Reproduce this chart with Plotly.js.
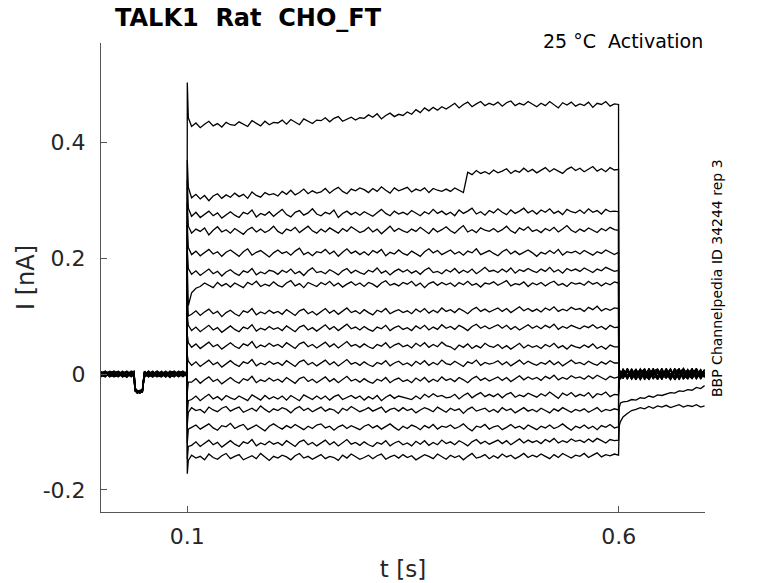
<!DOCTYPE html>
<html><head><meta charset="utf-8">
<script src="https://cdn.plot.ly/plotly-3.0.1.min.js"></script>
<style>html,body{margin:0;padding:0;background:#fff}#plot{width:778px;height:583px}</style>
</head><body><div id="plot"></div>
<script>
// time bases (s)
const tPre = [0,0.005,0.01,0.015,0.02,0.025,0.03,0.035,0.0385,0.0392,0.042,0.045,0.048,0.0502,0.0508,0.055,0.06,0.065,0.07,0.075,0.08,0.085,0.09,0.095,0.0998];
const tStep = [0.1,0.1012,
0.105,0.11,0.115,0.12,0.125,0.13,0.135,0.14,0.145,0.15,
0.155,0.16,0.165,0.17,0.175,0.18,0.185,0.19,0.195,0.2,
0.205,0.21,0.215,0.22,0.225,0.23,0.235,0.24,0.245,0.25,
0.255,0.26,0.265,0.27,0.275,0.28,0.285,0.29,0.295,0.3,
0.305,0.31,0.315,0.32,0.325,0.33,0.335,0.34,0.345,0.35,
0.355,0.36,0.365,0.37,0.375,0.38,0.385,0.39,0.395,0.4,
0.405,0.41,0.415,0.42,0.425,0.43,0.435,0.44,0.445,0.45,
0.455,0.46,0.465,0.47,0.475,0.48,0.485,0.49,0.495,0.5,
0.505,0.51,0.515,0.52,0.525,0.53,0.535,0.54,0.545,0.55,
0.555,0.56,0.565,0.57,0.575,0.58,0.585,0.59,0.595,
0.5998];
const tPost = [0.6,0.6006,0.602,0.605,0.61,0.615,0.62,0.625,0.63,0.635,0.64,0.645,0.65,0.655,0.66,0.665,0.67,0.675,0.68,0.685,0.69,0.695,0.6995];

// current values in pA, one sweep per array
const pre01=[2,-3,4,-1,-5,3,0,-4,2,-24,-30,-31,-27,-2,3,-4,1,5,-3,0,-6,2,4,-2,1];
const pre02=[-4,1,-2,5,0,-3,4,1,-5,-27,-32,-29,-30,1,-3,2,-5,0,3,-4,1,-2,5,0,-3];
const pre03=[1,5,-2,-4,3,-1,-6,2,0,-25,-29,-33,-28,-4,0,5,-1,-3,2,4,-5,0,-1,3,-4];
const pre04=[-2,-5,3,1,-3,5,-2,0,4,-28,-31,-30,-26,2,-5,-1,3,-4,0,-2,3,5,-3,1,0];
const pre05=[3,0,-4,2,4,-5,1,-2,-3,-26,-33,-28,-31,-1,4,-2,-5,2,-1,3,-3,-4,2,-5,2];
const pre06=[-1,3,1,-5,-2,2,5,-3,1,-29,-30,-32,-29,3,-2,1,4,-3,-5,1,2,-1,-4,3,-1];
const pre07=[0,-4,5,3,-1,-4,2,4,-2,-24,-28,-31,-30,-3,1,-4,0,5,1,-3,-1,4,0,-2,3];
const pre08=[4,2,-3,0,1,-2,-4,5,3,-27,-31,-29,-27,0,-4,3,2,-1,-4,5,0,-3,1,4,-2];
const pre09=[-3,-1,0,4,-4,1,3,-5,-1,-25,-32,-33,-29,4,2,-3,-2,1,3,-5,4,2,-4,-1,0];
const pre10=[2,4,-5,-2,5,0,-1,3,-4,-28,-29,-30,-28,-5,3,0,5,-4,1,2,-2,-5,3,0,-4];
const pre11=[-5,0,2,-3,1,4,-3,-1,2,-26,-30,-31,-30,2,-1,4,-3,3,-2,-1,5,1,-2,4,2];
const pre12=[1,-2,-1,5,-3,-2,4,0,-3,-29,-33,-29,-28,-2,5,-5,1,-2,4,0,-4,3,0,-3,1];
const pre13=[0,3,4,-4,2,-5,-2,3,5,-23,-31,-32,-31,1,-3,2,-4,4,0,-5,1,-1,2,5,-3];
const pre14=[-3,5,-3,1,-1,3,1,-4,0,-27,-30,-28,-27,5,0,-2,3,-1,-3,4,-2,0,-5,2,3];
const pre15=[4,-4,1,-2,-4,0,-5,2,-2,-26,-32,-30,-29,-4,2,1,-1,-5,5,-2,3,4,-1,-4,0];
const pre16=[-2,1,-4,3,4,-3,3,-1,4,-28,-29,-33,-30,0,-5,5,-3,2,-4,1,-3,-2,4,1,-2];
const pre17=[3,-3,2,0,-2,4,-4,1,-1,-25,-31,-30,-28,3,1,-1,4,-3,2,-1,0,5,-3,-2,4];

const step01=[503,442,
427,433,425,431,436,428,432,426,434,430,
429,435,431,427,437,432,428,436,430,434,
433,438,431,439,434,430,440,436,432,438,
437,442,435,441,444,436,440,443,438,442,
441,447,443,449,440,446,450,444,448,446,
452,448,456,451,459,454,460,455,461,457,
462,467,459,465,469,461,466,470,463,467,
464,469,462,468,471,463,467,464,470,466,
461,467,463,470,465,459,468,464,469,462,
466,463,469,460,467,465,470,462,466,
465];
const step02=[369,322,
304,310,302,308,299,307,311,303,309,305,
312,306,310,303,314,308,305,313,309,311,
307,315,310,317,309,313,319,311,316,312,
314,320,312,318,322,315,311,319,316,321,
318,313,320,315,323,317,312,321,316,319,
322,314,319,316,321,313,320,317,315,319,
315,321,317,313,348,344,351,346,349,345,
352,347,350,354,346,351,348,355,349,353,
347,352,356,349,354,350,346,353,357,351,
355,349,353,358,350,354,349,356,352,
353];
const step03=[335,286,
272,279,270,276,281,273,278,269,275,280,
274,270,279,276,283,271,277,274,280,272,
278,284,275,271,279,282,274,278,285,276,
273,279,276,283,270,277,281,275,279,274,
280,276,272,278,284,277,273,281,276,279,
275,282,278,273,280,276,284,277,281,275,
279,273,283,277,281,286,276,280,274,282,
278,285,279,275,283,277,281,286,278,282,
276,283,279,285,277,281,275,284,280,278,
283,277,285,279,282,276,284,280,281,
280];
const step04=[296,255,
243,250,246,252,240,248,254,245,249,243,
251,246,241,249,253,245,250,244,248,255,
246,242,250,247,253,244,249,255,247,243,
250,245,252,248,243,251,246,254,249,244,
247,253,245,250,242,249,255,246,251,247,
244,250,246,253,248,242,251,245,249,254,
247,243,250,256,245,249,244,252,248,246,
251,245,249,255,247,243,252,248,254,246,
249,244,251,247,253,245,250,256,248,244,
250,246,252,248,244,251,247,253,249,
248];
const step05=[257,218,
206,212,204,209,215,207,211,203,210,214,
208,203,211,216,205,210,213,207,202,209,
214,208,211,205,212,217,206,210,204,211,
209,215,207,212,203,210,216,208,212,206,
211,205,213,209,215,204,210,207,214,208,
205,212,208,203,211,216,209,213,206,210,
214,207,211,205,212,209,216,206,210,213,
208,204,211,215,207,212,206,210,214,209,
203,210,207,213,208,215,205,211,209,212,
207,213,209,205,211,208,214,210,206,
210];
const step06=[216,182,
172,178,170,175,181,173,177,169,176,180,
174,170,178,175,182,171,176,173,179,177,
172,179,175,181,173,177,170,178,183,175,
177,173,180,176,171,178,182,174,179,175,
172,179,176,183,174,178,171,177,181,176,
180,174,178,172,179,183,175,177,173,180,
176,182,174,179,175,181,173,178,184,177,
179,175,181,176,183,174,180,177,182,178,
175,181,177,184,176,180,174,182,178,181,
177,183,179,175,181,178,184,180,177,
179];
const step07=[186,118,
140,148,151,157,153,149,158,152,156,150,
157,153,149,158,154,160,151,155,152,159,
153,150,157,161,152,156,149,158,155,151,
158,154,160,152,157,150,155,159,153,157,
151,158,155,150,157,161,153,156,152,158,
155,160,152,157,149,156,159,153,158,154,
157,151,158,154,160,153,156,150,157,155,
159,153,157,161,152,156,154,159,151,157,
154,158,152,157,160,153,156,151,158,155,
157,153,160,155,158,152,157,154,159,
157];
const step08=[141,100,
103,109,101,107,112,104,108,99,106,110,
104,100,109,106,113,102,107,104,110,105,
108,103,111,106,101,109,112,104,108,102,
107,113,105,110,103,108,114,106,109,104,
111,106,102,110,107,113,104,108,111,106,
109,104,112,107,113,105,110,106,114,108,
111,106,113,109,104,111,115,108,112,107,
110,114,108,113,106,111,116,109,113,108,
112,107,114,110,116,108,112,109,115,111,
113,108,115,111,117,109,113,110,114,
113];
const step09=[103,84,
75,81,73,79,84,76,80,72,78,83,
77,73,81,78,85,74,79,76,82,77,
80,75,83,78,73,81,84,76,80,74,
79,85,77,82,75,80,86,78,81,76,
82,77,74,81,78,84,75,80,83,77,
80,75,83,78,84,76,81,77,85,79,
82,77,84,80,75,82,86,79,83,78,
81,85,79,84,77,82,76,80,85,79,
83,78,84,80,86,77,82,79,84,81,
78,83,80,85,79,82,77,84,80,
81];
const step10=[68,54,
46,52,44,50,55,47,51,43,49,54,
48,44,52,49,56,45,50,47,53,48,
51,46,54,49,44,52,55,47,51,45,
50,55,47,52,45,50,56,48,51,46,
52,47,44,51,48,54,45,50,53,47,
50,45,53,48,54,46,51,47,55,49,
47,42,50,46,52,44,49,45,53,48,
46,51,44,49,43,48,53,45,50,46,
49,44,51,47,53,45,49,43,50,47,
45,50,46,52,44,48,43,50,47,
47];
const step11=[32,22,
15,21,13,19,24,16,20,12,18,23,
17,13,21,18,25,14,19,16,22,17,
20,15,23,18,13,21,24,16,20,14,
19,24,16,21,14,19,25,17,20,15,
21,16,13,20,17,23,14,19,22,16,
19,14,22,17,23,15,20,16,24,18,
16,22,17,13,21,18,24,15,20,17,
19,23,16,21,14,19,24,17,22,18,
15,20,17,23,16,21,14,19,24,18,
20,16,22,18,15,21,17,23,19,
19];
const step12=[-32,-14,
-14,-8,-16,-10,-5,-13,-9,-17,-11,-6,
-12,-16,-8,-11,-4,-15,-10,-13,-7,-12,
-9,-14,-6,-11,-16,-8,-5,-13,-9,-15,
-10,-5,-13,-8,-15,-10,-4,-12,-9,-14,
-8,-13,-16,-9,-12,-6,-15,-10,-7,-13,
-10,-15,-7,-12,-6,-14,-9,-13,-5,-11,
-8,-13,-6,-10,-15,-8,-4,-11,-7,-12,
-9,-5,-11,-6,-13,-8,-3,-10,-5,-9,
-6,-11,-4,-8,-2,-10,-6,-9,-3,-7,
-5,-9,-3,-8,-2,-6,-10,-4,-7,
-5];
const step13=[-68,-46,
-44,-38,-46,-40,-35,-43,-39,-45,-37,-41,
-44,-38,-42,-46,-36,-41,-45,-37,-43,-39,
-43,-38,-45,-37,-42,-46,-36,-40,-44,-38,
-43,-38,-45,-39,-36,-44,-40,-37,-42,-38,
-45,-39,-43,-37,-46,-40,-36,-42,-38,-40,
-42,-44,-38,-43,-35,-40,-34,-39,-37,-41,
-40,-35,-43,-37,-33,-41,-36,-32,-39,-35,
-39,-34,-41,-35,-32,-40,-36,-39,-33,-37,
-40,-34,-38,-31,-36,-42,-33,-37,-32,-39,
-35,-38,-32,-41,-34,-36,-31,-39,-35,
-36];
const step14=[-88,-66,
-58,-63,-61,-67,-57,-62,-65,-59,-56,-64,
-60,-57,-66,-62,-59,-64,-55,-61,-66,-60,
-63,-58,-61,-67,-60,-56,-63,-59,-65,-61,
-57,-64,-60,-62,-68,-59,-63,-56,-61,-65,
-62,-58,-64,-60,-57,-66,-61,-59,-64,-58,
-63,-60,-67,-62,-58,-61,-65,-57,-62,-66,
-59,-63,-60,-68,-61,-57,-64,-62,-59,-65,
-61,-66,-58,-63,-60,-67,-62,-58,-64,-61,
-65,-59,-63,-67,-60,-64,-58,-62,-66,-61,
-64,-60,-66,-62,-58,-65,-61,-63,-60,
-62];
const step15=[-119,-95,
-92,-88,-95,-90,-86,-93,-97,-89,-91,-85,
-94,-90,-87,-96,-92,-88,-93,-98,-90,-86,
-91,-95,-89,-93,-87,-92,-96,-90,-94,-88,
-86,-93,-90,-97,-91,-88,-94,-89,-92,-96,
-90,-87,-93,-89,-95,-91,-86,-92,-97,-90,
-94,-88,-91,-96,-89,-93,-87,-95,-90,-92,
-88,-94,-91,-86,-93,-98,-90,-92,-87,-95,
-91,-89,-96,-92,-87,-93,-90,-95,-88,-92,
-96,-90,-93,-88,-94,-91,-86,-92,-97,-90,
-93,-88,-94,-90,-96,-89,-92,-87,-93,
-91];
const step16=[-147,-125,
-123,-117,-125,-119,-114,-122,-118,-126,-120,-115,
-121,-125,-117,-120,-113,-124,-119,-122,-116,-121,
-118,-123,-115,-120,-125,-117,-114,-122,-118,-124,
-119,-114,-122,-117,-124,-119,-113,-121,-118,-123,
-117,-122,-125,-118,-121,-115,-124,-119,-116,-122,
-119,-124,-116,-121,-115,-123,-118,-122,-114,-120,
-117,-122,-115,-119,-124,-117,-113,-120,-116,-121,
-118,-114,-120,-115,-122,-117,-112,-119,-114,-118,
-115,-120,-113,-117,-111,-119,-115,-118,-112,-116,
-114,-118,-112,-117,-111,-115,-119,-113,-115,
-114];
const step17=[-172,-149,
-140,-145,-142,-148,-138,-144,-147,-141,-137,-146,
-142,-139,-148,-144,-141,-146,-137,-143,-149,-142,
-145,-140,-143,-148,-141,-137,-145,-142,-147,-143,
-139,-146,-142,-144,-149,-140,-145,-138,-143,-147,
-144,-140,-146,-141,-138,-147,-143,-140,-145,-139,
-144,-141,-148,-143,-139,-142,-146,-138,-143,-147,
-140,-144,-141,-148,-142,-137,-145,-143,-139,-146,
-141,-145,-138,-143,-140,-146,-142,-137,-144,-140,
-143,-138,-142,-146,-139,-144,-137,-141,-145,-140,
-142,-137,-144,-140,-136,-143,-139,-141,-138,
-140];

const post01=[-35,-12,-4,6,-8,3,-5,9,-2,-9,4,7,-6,1,-10,5,8,-3,-7,2,9,-4,3];
const post02=[-30,-10,5,-7,4,-9,8,-3,6,-5,10,-8,2,-4,7,-10,3,9,-6,1,-2,8,-5];
const post03=[-27,-8,-6,9,-4,2,-10,6,-1,8,-7,3,-9,5,-3,10,-6,0,7,-8,4,-2,6];
const post04=[-24,-13,3,-5,8,-9,1,7,-4,-8,5,9,-2,-7,6,-3,10,-9,2,5,-6,3,-1];
const post05=[-21,-9,-2,7,-6,4,-8,2,9,-5,-1,6,-10,8,-4,3,-7,5,-3,9,-8,1,4];
const post06=[-18,-11,6,-3,9,-7,5,-10,1,7,-4,8,-6,2,-9,4,6,-2,-8,10,-5,7,-3];
const post07=[-15,-7,-5,8,-2,6,-9,3,-6,10,-3,-8,4,-1,9,-7,2,-5,8,-4,6,-9,2];
const post08=[-12,-10,2,-8,5,-3,7,-6,4,-2,9,-9,1,6,-5,8,-10,3,-1,7,-7,5,-4];
const post09=[-9,-6,-7,4,-9,8,-2,5,-8,3,6,-4,10,-7,1,-3,7,-9,5,-6,2,-1,7];
const post10=[-6,-12,4,-4,7,-8,3,-5,9,-10,2,5,-3,8,-6,4,-9,6,-2,-7,9,-3,1];
const post11=[-3,-5,-8,6,-3,9,-7,1,-4,7,-9,3,-5,10,-2,-8,5,-6,3,8,-4,2,-6];
const post12=[8,-9,3,-6,10,-4,2,-9,6,-1,8,-7,4,-3,9,-10,1,7,-5,3,-8,6,0];
const post13=[18,-4,-6,9,-7,5,-3,8,-10,4,-2,7,-6,3,-9,6,-4,10,-1,-8,5,-3,8];
const post14=[26,7,-9,2,-5,8,-9,4,6,-7,1,-3,9,-5,7,-8,2,-6,5,-2,10,-7,3];
const post15=[33,10,-3,-7,6,-2,9,-8,3,-5,7,-10,5,1,-6,8,-4,3,-9,6,-1,4,-5];
const post16=[-70,-58,-50,-48,-47,-44,-45,-41,-42,-38,-40,-36,-37,-34,-32,-33,-29,-30,-27,-28,-23,-25,-20];
const post17=[-97,-90,-82,-74,-68,-63,-61,-58,-60,-56,-59,-55,-57,-54,-58,-55,-53,-57,-54,-56,-53,-57,-55];

const preAll=[pre01,pre02,pre03,pre04,pre05,pre06,pre07,pre08,pre09,pre10,pre11,pre12,pre13,pre14,pre15,pre16,pre17];
const stepAll=[step01,step02,step03,step04,step05,step06,step07,step08,step09,step10,step11,step12,step13,step14,step15,step16,step17];
const postAll=[post01,post02,post03,post04,post05,post06,post07,post08,post09,post10,post11,post12,post13,post14,post15,post16,post17];

const xTickVals=[0.1,0.6], xTickText=['0.1','0.6'];
const yTickVals=[-0.2,0,0.2,0.4], yTickText=['-0.2','0','0.2','0.4'];

function seg(t,v){const n=Math.min(t.length,v.length);return {x:t.slice(0,n),y:v.slice(0,n).map(a=>a/1000)};}
const traces=[];
for(let i=0;i<stepAll.length;i++){
  const a=seg(tPre,preAll[i]),b=seg(tStep,stepAll[i]),c=seg(tPost,postAll[i]);
  traces.push({type:'scatter',mode:'lines',x:a.x.concat(b.x,c.x),y:a.y.concat(b.y,c.y),
    line:{color:'#000',width:1.3},hoverinfo:'skip',showlegend:false});
}
const F='"DejaVu Sans", Verdana, sans-serif';
const axCol='#555555', txtCol='#262626';
const layout={
  width:778,height:583,paper_bgcolor:'#fff',plot_bgcolor:'#fff',
  margin:{l:101,r:73,t:43,b:71},
  font:{family:F,color:txtCol},
  title:{text:'<b>TALK1\u00a0\u00a0Rat\u00a0\u00a0CHO_FT</b>',font:{family:F,size:24,color:'#000'},
    xref:'container',yref:'container',x:115/778,xanchor:'left',y:1-18/583,yanchor:'middle'},
  xaxis:{range:[0,0.7],tickmode:'array',tickvals:xTickVals,ticktext:xTickText,ticks:'inside',ticklen:6,
    tickcolor:axCol,showline:true,linecolor:axCol,linewidth:1,showgrid:false,zeroline:false,
    tickfont:{family:F,size:22,color:txtCol},ticklabelstandoff:5,
    title:{text:'t [s]',font:{family:F,size:23,color:txtCol},standoff:12}},
  yaxis:{range:[-0.238,0.571],tickmode:'array',tickvals:yTickVals,ticktext:yTickText,ticks:'inside',ticklen:6,
    tickcolor:axCol,showline:true,linecolor:axCol,linewidth:1,showgrid:false,zeroline:false,
    tickfont:{family:F,size:22,color:txtCol},ticklabelstandoff:10,
    title:{text:'I [nA]',font:{family:F,size:24,color:txtCol},standoff:1}},
  annotations:[
    {text:'25 °C\u00a0\u00a0Activation',xref:'paper',yref:'paper',x:1,y:(512-41)/469,xanchor:'right',yanchor:'middle',
     showarrow:false,font:{family:F,size:19,color:'#000'}},
    {text:'BBP Channelpedia ID 34244 rep 3',xref:'paper',yref:'paper',x:(717-101)/604,y:(512-278)/469,
     xanchor:'center',yanchor:'middle',textangle:-90,showarrow:false,font:{family:F,size:14,color:'#000'}}
  ]
};
Plotly.newPlot('plot',traces,layout,{displayModeBar:false,staticPlot:true});
</script></body></html>
